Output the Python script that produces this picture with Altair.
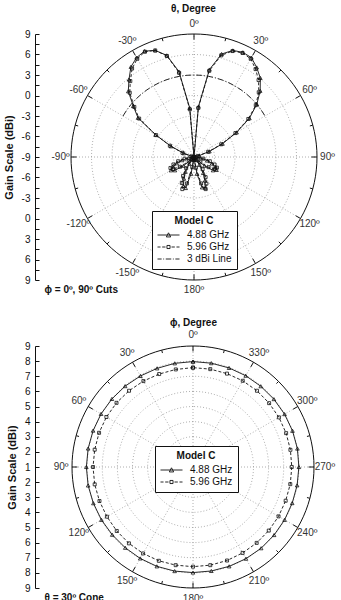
import altair as alt
import pandas as pd

FONT = "Liberation Sans"
INK = "#111111"
GRID = "#9a9a9a"

# ---------------- top panel: phi = 0, 90 deg cuts (theta pattern) ----------------
theta_top = list(range(-180, 181, 5))
gain_488_top = [
    -9.0, -8.6, -6.5, -4.3, -4.5, -5.5, -6.5, -7.8, -9.0, -8.5, -7.0, -5.6,   # -180..-125
    -5.1, -5.6, -6.3, -7.2, -8.2, -9.0, -9.0, -9.0, -9.0, -8.8, -7.4, -5.3,   # -120..-65
    -2.5, 1.0, 2.6, 4.6, 5.8, 7.1, 7.8, 8.1, 7.6, 6.4, 3.7, -1.8,             # -60..-5
    -9.0,                                                                     # 0
    -1.6, 4.0, 6.6, 7.6, 7.9, 7.8, 7.0, 6.1, 4.7, 3.0, 0.9, -1.8,             # 5..60
    -4.4, -6.6, -8.2, -9.0, -9.0, -9.0, -9.0, -8.0, -7.0, -6.2, -5.5, -5.2,   # 65..120
    -5.6, -7.0, -8.5, -9.0, -7.6, -6.3, -5.2, -4.2, -4.4, -6.5, -8.6, -9.0,   # 125..180
]
gain_596_top = [
    -9.0, -9.0, -7.5, -5.0, -4.0, -4.8, -5.8, -7.0, -8.5, -9.0, -8.0, -6.5,
    -5.5, -5.2, -5.8, -6.6, -7.6, -8.8, -9.0, -9.0, -9.0, -8.6, -7.2, -5.1,
    -2.6, 0.8, 2.4, 4.3, 5.5, 6.8, 7.6, 8.0, 7.6, 6.3, 3.5, -2.0,
    -9.0,
    -1.8, 3.8, 6.4, 7.5, 7.8, 7.6, 6.7, 5.7, 4.4, 2.8, 0.7, -2.0,
    -4.6, -6.8, -8.4, -9.0, -9.0, -9.0, -8.6, -7.6, -6.6, -5.8, -5.3, -5.5,
    -6.4, -7.8, -9.0, -8.4, -6.8, -5.6, -4.7, -4.0, -5.0, -7.4, -9.0, -9.0,
]
arc3_theta = list(range(-60, 61, 5))
arc3_gain = [3.0] * len(arc3_theta)
top_grid_gain = [-6, -3, 0, 3, 6]
top_label_angles = [0, 30, 60, 90, 120, 150, 180, -150, -120, -90, -60, -30]
top_label_text = ["0º", "30º", "60º", "90º", "120º", "150º", "180º",
                  "-150º", "-120º", "-90º", "-60º", "-30º"]

# ---------------- bottom panel: theta = 30 deg cone (phi pattern) ----------------
phi_bot = list(range(0, 361, 10))
gain_488_bot = [7.97, 7.96, 7.94, 7.95, 7.98, 8.00, 8.02, 8.03, 8.04, 8.05,
                8.04, 8.01, 7.99, 7.97, 7.97, 7.98, 7.99, 7.99, 7.98, 7.98,
                7.99, 8.00, 8.01, 8.00, 7.99, 7.98, 7.99, 8.00, 8.01, 8.00,
                7.99, 7.98, 7.97, 7.97, 7.97, 7.97, 7.97]
gain_596_bot = [7.57, 7.55, 7.54, 7.56, 7.58, 7.60, 7.61, 7.61, 7.60, 7.61,
                7.60, 7.58, 7.57, 7.58, 7.59, 7.60, 7.60, 7.59, 7.59, 7.59,
                7.58, 7.56, 7.55, 7.54, 7.53, 7.52, 7.53, 7.53, 7.54, 7.55,
                7.56, 7.57, 7.58, 7.58, 7.57, 7.57, 7.57]
bot_grid_gain = [2, 3, 4, 5, 6, 7, 8]
bot_label_angles = list(range(0, 360, 30))
bot_label_text = ["0º", "30º", "60º", "90º", "120º", "150º", "180º",
                  "210º", "240º", "270º", "300º", "330º"]

# legend entries (symbols are custom paths: line + marker)
legend_names = ["4.88 GHz", "5.96 GHz", "3 dBi Line"]
legend_paths = [
    "M-1,0H3M0.6,0.35L1,-0.4L1.4,0.35Z",
    "M-1,0H-0.45M-0.15,0H0.45M0.72,-0.28H1.28V0.28H0.72ZM1.55,0H2.15M2.45,0H3",
    "M-1,0H-0.25M0.05,0H0.2M0.5,0H1.5M1.8,0H1.95M2.25,0H3",
]

circle_angles = list(range(0, 361, 3))


def xy(chart, r_expr, sign):
    return chart.transform_calculate(r=r_expr).transform_calculate(
        px=f"{sign}*datum.r*sin(datum.a*PI/180)",
        py="datum.r*cos(datum.a*PI/180)",
    )


def build_panel(angles, g488, g596, r_expr, sign, grid_levels, lab_angles, lab_text,
                lab_r, xdom, width, height, yvals, ylab_expr, title, title_offset, xtitle,
                leg_x, leg_y, arc=None, n_legend=3):
    xs = alt.Scale(domain=xdom, nice=False, zero=False)
    ys = alt.Scale(domain=[-1, 1], nice=False, zero=False)
    xaxis = alt.Axis(title=xtitle, labels=False, ticks=False, domain=False, grid=False,
                     titleAnchor="start", titleAlign="left", titleX=9, titlePadding=4,
                     titleFont=FONT, titleFontSize=10, titleFontWeight="bold", titleColor=INK)
    yaxis = alt.Axis(title="Gain Scale (dBi)", values=yvals, labelExpr=ylab_expr,
                     grid=False, tickSize={"expr": "-4"}, tickColor=INK, tickWidth=1,
                     domainColor=INK, domainWidth=1, labelPadding=9,
                     labelFont=FONT, labelFontSize=10, labelColor=INK,
                     titleFont=FONT, titleFontSize=11, titleFontWeight="bold",
                     titleColor=INK, titlePadding=7)

    def X(f="px"):
        return alt.X(f"{f}:Q", scale=xs, axis=xaxis)

    def Y(f="py"):
        return alt.Y(f"{f}:Q", scale=ys, axis=yaxis)

    # dotted grid circles
    grid_df = pd.DataFrame([{"g": g, "a": a, "idx": i}
                            for g in grid_levels for i, a in enumerate(circle_angles)])
    grid = xy(alt.Chart(grid_df), r_expr, sign).mark_line(
        color=GRID, strokeDash=[1, 2], strokeWidth=0.8
    ).encode(x=X(), y=Y(), detail="g:N", order="idx:Q")

    # dotted spokes
    spoke_df = pd.DataFrame({"a": list(range(0, 360, 30))})
    spokes = alt.Chart(spoke_df).transform_calculate(
        x1="0", y1="0",
        x2=f"{sign}*sin(datum.a*PI/180)", y2="cos(datum.a*PI/180)"
    ).mark_rule(color=GRID, strokeDash=[1, 2], strokeWidth=0.8).encode(
        x=X("x1"), y=Y("y1"), x2="x2:Q", y2="y2:Q")

    # outer solid circle
    outer_df = pd.DataFrame({"a": circle_angles, "idx": list(range(len(circle_angles))), "r": 1})
    outer = alt.Chart(outer_df).transform_calculate(
        px="datum.r*sin(datum.a*PI/180)", py="datum.r*cos(datum.a*PI/180)"
    ).mark_line(color=INK, strokeWidth=1).encode(x=X(), y=Y(), order="idx:Q")

    # ticks on outer circle
    tick_df = pd.DataFrame({"a": list(range(0, 360, 15))})
    ticks = alt.Chart(tick_df).transform_calculate(
        rin="datum.a % 30 == 0 ? 0.955 : 0.975"
    ).transform_calculate(
        x1="sin(datum.a*PI/180)", y1="cos(datum.a*PI/180)",
        x2="datum.rin*sin(datum.a*PI/180)", y2="datum.rin*cos(datum.a*PI/180)"
    ).mark_rule(color=INK, strokeWidth=1).encode(x=X("x1"), y=Y("y1"), x2="x2:Q", y2="y2:Q")

    layers = [grid, spokes, outer, ticks]

    if arc is not None:
        arc_df = pd.DataFrame({"a": arc[0], "g": arc[1], "idx": list(range(len(arc[0])))})
        layers.append(xy(alt.Chart(arc_df), r_expr, sign).mark_line(
            color=INK, strokeDash=[6, 2, 1, 2], strokeWidth=0.9
        ).encode(x=X(), y=Y(), order="idx:Q"))

    d596 = pd.DataFrame({"a": angles, "g": g596, "idx": list(range(len(angles)))})
    d488 = pd.DataFrame({"a": angles, "g": g488, "idx": list(range(len(angles)))})
    layers.append(xy(alt.Chart(d596), r_expr, sign).mark_line(
        color=INK, strokeDash=[3, 2], strokeWidth=0.9).encode(x=X(), y=Y(), order="idx:Q"))
    layers.append(xy(alt.Chart(d488), r_expr, sign).mark_line(
        color=INK, strokeWidth=0.9).encode(x=X(), y=Y(), order="idx:Q"))
    layers.append(xy(alt.Chart(d596), r_expr, sign).mark_point(
        shape="square", size=9, filled=False, color=INK, opacity=1, strokeWidth=0.8
    ).encode(x=X(), y=Y()))
    layers.append(xy(alt.Chart(d488), r_expr, sign).mark_point(
        shape="triangle-up", size=13, filled=False, color=INK, opacity=1, strokeWidth=0.8
    ).encode(x=X(), y=Y()))

    # angle labels
    lab_df = pd.DataFrame({"a": lab_angles, "t": lab_text, "r": lab_r})
    layers.append(alt.Chart(lab_df).transform_calculate(
        px=f"{sign}*datum.r*sin(datum.a*PI/180)", py="datum.r*cos(datum.a*PI/180)"
    ).mark_text(font=FONT, fontSize=10, color="#333333", align="center",
                baseline="middle").encode(x=X(), y=Y(), text="t:N"))

    # legend layer (no visible points, only the legend)
    names = legend_names[:n_legend]
    paths = legend_paths[:n_legend]
    leg_df = pd.DataFrame({"series": names, "px": 0.0, "py": 0.0})
    legend = alt.Chart(leg_df).transform_filter("false").mark_point(
        filled=False, color=INK, opacity=1
    ).encode(
        x=X(), y=Y(),
        shape=alt.Shape("series:N", scale=alt.Scale(domain=names, range=paths),
                        legend=alt.Legend(
                            title="Model C", orient="none", legendX=leg_x, legendY=leg_y,
                            direction="vertical",
                            titleFont=FONT, titleFontSize=10, titleFontWeight="bold",
                            titleColor=INK, titleAnchor="middle", titlePadding=3,
                            labelFont=FONT, labelFontSize=10, labelColor=INK,
                            labelOffset=18, symbolSize=121, symbolStrokeWidth=0.9,
                            symbolStrokeColor=INK, symbolOpacity=1,
                            strokeColor=INK, fillColor="white", padding=5,
                            rowPadding=1, cornerRadius=0)))
    layers.append(legend)

    return alt.layer(*layers).properties(
        width=width, height=height,
        title=alt.TitleParams(title, font=FONT, fontSize=10, fontWeight="bold", color=INK,
                              anchor="middle", frame="group", offset=title_offset, dx=6))


top = build_panel(
    theta_top, gain_488_top, gain_596_top,
    r_expr="clamp((datum.g+9)/18, 0, 1)", sign=1,
    grid_levels=top_grid_gain, lab_angles=top_label_angles, lab_text=top_label_text,
    lab_r=1.085, xdom=[-159 / 123, 146 / 123], width=305, height=246,
    yvals=[k / 12 for k in range(-12, 13)],
    ylab_expr="round(abs(datum.value)*12) % 2 == 0 ? toString(round(abs(datum.value)*18 - 9)) : ''",
    title="θ, Degree", title_offset=5, xtitle="ϕ = 0º, 90º Cuts", leg_x=117, leg_y=177,
    arc=(arc3_theta, arc3_gain), n_legend=3)

bottom = build_panel(
    phi_bot, gain_488_bot, gain_596_bot,
    r_expr="clamp((datum.g-1)/8, 0, 1)", sign=-1,
    grid_levels=bot_grid_gain, lab_angles=bot_label_angles, lab_text=bot_label_text,
    lab_r=1.09, xdom=[-158 / 121, 147 / 121], width=305, height=242,
    yvals=[k / 8 for k in range(-8, 9)],
    ylab_expr="toString(round(abs(datum.value)*8 + 1))",
    title="ϕ, Degree", title_offset=2, xtitle="θ = 30º Cone", leg_x=120, leg_y=100,
    arc=None, n_legend=2)

chart = alt.vconcat(top, bottom, spacing=66, bounds="flush",
                    padding={"left": 3, "top": 3, "right": 0, "bottom": 0}
                    ).resolve_scale(shape="independent").resolve_legend(
                        shape="independent").configure_view(stroke=None)

chart.save("out.html", embed_options={"renderer": "svg", "actions": False})
